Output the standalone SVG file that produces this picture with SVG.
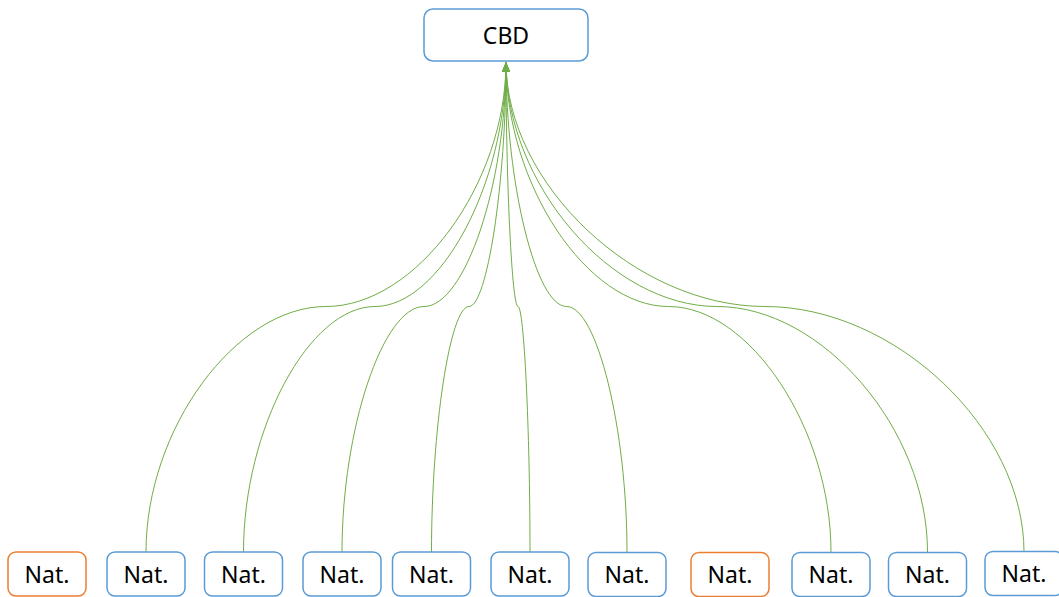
<svg xmlns="http://www.w3.org/2000/svg" width="1059" height="597" viewBox="0 0 1059 597">
  <style>
    .box { fill: #ffffff; stroke-width: 1.5; }
    .blue { stroke: #5B9BD5; }
    .orange { stroke: #ED7D31; }
    .lbl { font-family: "Noto Sans", "Open Sans", sans-serif; font-size: 23px; fill: #000000; text-anchor: middle; }
    .link { fill: none; stroke: #70AD47; stroke-width: 1; marker-end: url(#arrow); }
  </style>
  <defs>
    <marker id="arrow" viewBox="0 0 10 8" refX="10" refY="4" markerWidth="10" markerHeight="8" markerUnits="userSpaceOnUse" orient="auto">
      <path d="M0,0 L10,4 L0,8 Z" fill="#70AD47"/>
    </marker>
  </defs>
  <rect width="1059" height="597" fill="#ffffff"/>

  <!-- connectors: each child curves up to the top of CBD -->
  <g id="connectors">
    <path class="link" d="M146,552 C146,429 236,306.5 326,306.5 C416,306.5 506,184 506,62"/>
    <path class="link" d="M243.5,552 C243.5,429 309,306.5 375,306.5 C440,306.5 506,184 506,62"/>
    <path class="link" d="M342,552 C342,429 383,306.5 424,306.5 C465,306.5 506,184 506,62"/>
    <path class="link" d="M431.5,552 C431.5,429 450,306.5 469,306.5 C487,306.5 506,184 506,62"/>
    <path class="link" d="M530,552 C530,429 524,306.5 518,306.5 C512,306.5 506,184 506,62"/>
    <path class="link" d="M627,552 C627,429 597,306.5 566.5,306.5 C536,306.5 506,184 506,62"/>
    <path class="link" d="M831,552 C831,429 750,306.5 668.5,306.5 C587,306.5 506,184 506,62"/>
    <path class="link" d="M927.5,552 C927.5,429 822,306.5 717,306.5 C611,306.5 506,184 506,62"/>
    <path class="link" d="M1024,552 C1024,429 895,306.5 765,306.5 C636,306.5 506,184 506,62"/>
  </g>

  <g id="cbd">
    <rect class="box blue" x="424" y="9" width="164" height="52" rx="9"/>
    <text class="lbl" x="506" y="43.5">CBD</text>
  </g>

  <g id="nat1">
    <rect class="box orange" x="8" y="552" width="78" height="44" rx="8"/>
    <text class="lbl" x="47" y="582.5">Nat.</text>
  </g>
  <g id="nat2">
    <rect class="box blue" x="107" y="552" width="78" height="44" rx="8"/>
    <text class="lbl" x="146" y="582.5">Nat.</text>
  </g>
  <g id="nat3">
    <rect class="box blue" x="204.5" y="552" width="78" height="44" rx="8"/>
    <text class="lbl" x="243.5" y="582.5">Nat.</text>
  </g>
  <g id="nat4">
    <rect class="box blue" x="303" y="552" width="78" height="44" rx="8"/>
    <text class="lbl" x="342" y="582.5">Nat.</text>
  </g>
  <g id="nat5">
    <rect class="box blue" x="392.5" y="552" width="78" height="44" rx="8"/>
    <text class="lbl" x="431.5" y="582.5">Nat.</text>
  </g>
  <g id="nat6">
    <rect class="box blue" x="491" y="552" width="78" height="44" rx="8"/>
    <text class="lbl" x="530" y="582.5">Nat.</text>
  </g>
  <g id="nat7">
    <rect class="box blue" x="588" y="552.5" width="78" height="44" rx="8"/>
    <text class="lbl" x="627" y="583">Nat.</text>
  </g>
  <g id="nat8">
    <rect class="box orange" x="691" y="552.5" width="78" height="44" rx="8"/>
    <text class="lbl" x="730" y="583">Nat.</text>
  </g>
  <g id="nat9">
    <rect class="box blue" x="792" y="552.5" width="78" height="44" rx="8"/>
    <text class="lbl" x="831" y="583">Nat.</text>
  </g>
  <g id="nat10">
    <rect class="box blue" x="888.5" y="552.5" width="78" height="44" rx="8"/>
    <text class="lbl" x="927.5" y="583">Nat.</text>
  </g>
  <g id="nat11">
    <rect class="box blue" x="985" y="551.5" width="78" height="44" rx="8"/>
    <text class="lbl" x="1024" y="581.5">Nat.</text>
  </g>
</svg>
